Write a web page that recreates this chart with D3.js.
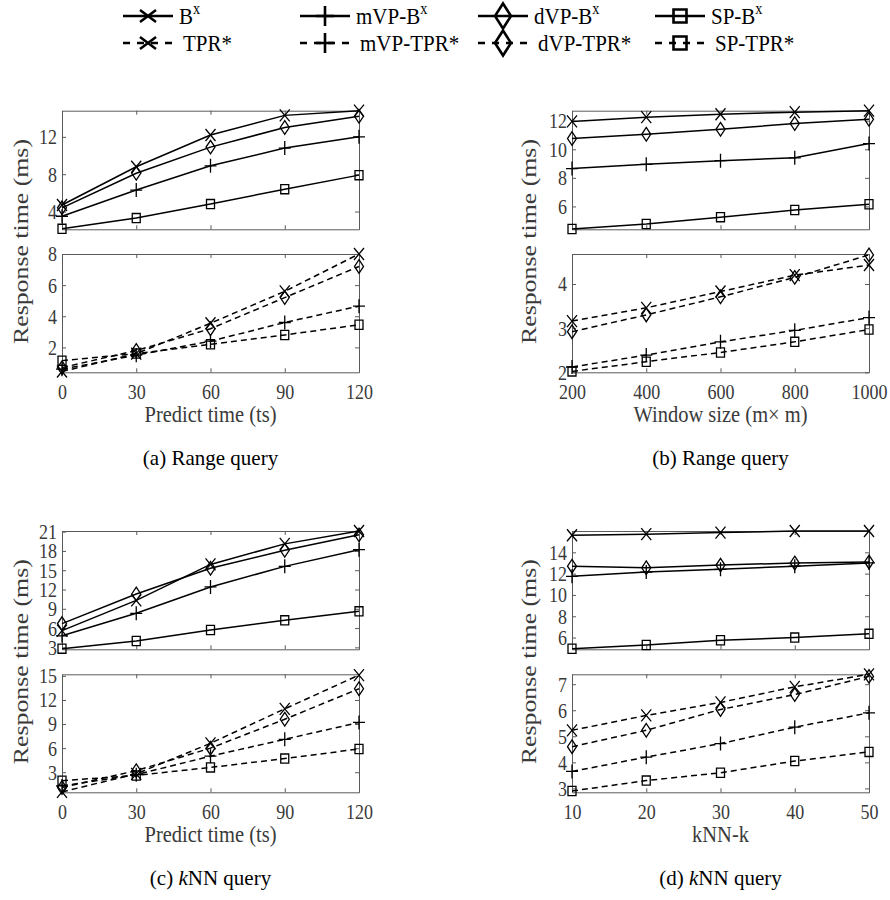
<!DOCTYPE html>
<html>
<head>
<meta charset="utf-8">
<script src="https://cdn.jsdelivr.net/npm/d3@7/dist/d3.min.js"></script>
<style>
	body { margin: 0; background: #fff; }
	text { font-family: "Times New Roman", "Liberation Serif", serif; }
</style>
</head>
<body>
<div id="chart"></div>
<script>

// categories (x axis)
var predictTime = [0, 30, 60, 90, 120];
var windowSize = [200, 400, 600, 800, 1000];
var knnK = [10, 20, 30, 40, 50];

// (a) range query vs predict time
var rangePredBx     = [4.7, 8.8, 12.2, 14.3, 14.8];
var rangePredMvpBx  = [3.5, 6.3, 8.9, 10.8, 12.0];
var rangePredDvpBx  = [4.4, 8.1, 10.9, 13.0, 14.2];
var rangePredSpBx   = [2.15, 3.3, 4.8, 6.4, 7.9];
var rangePredTpr    = [0.45, 1.6, 3.55, 5.6, 8.0];
var rangePredMvpTpr = [0.6, 1.5, 2.4, 3.6, 4.65];
var rangePredDvpTpr = [0.7, 1.8, 3.2, 5.2, 7.2];
var rangePredSpTpr  = [1.15, 1.6, 2.2, 2.8, 3.45];

// (b) range query vs window size
var rangeWinBx     = [11.95, 12.25, 12.45, 12.6, 12.7];
var rangeWinMvpBx  = [8.65, 8.95, 9.2, 9.4, 10.4];
var rangeWinDvpBx  = [10.75, 11.05, 11.4, 11.8, 12.1];
var rangeWinSpBx   = [4.42, 4.77, 5.25, 5.75, 6.15];
var rangeWinTpr    = [3.16, 3.46, 3.83, 4.2, 4.43];
var rangeWinMvpTpr = [2.12, 2.39, 2.69, 2.95, 3.24];
var rangeWinDvpTpr = [2.92, 3.3, 3.71, 4.15, 4.66];
var rangeWinSpTpr  = [2.02, 2.24, 2.45, 2.69, 2.97];

// (c) kNN query vs predict time
var knnPredBx     = [5.6, 10.3, 15.9, 19.1, 21.1];
var knnPredMvpBx  = [4.8, 8.3, 12.4, 15.6, 18.2];
var knnPredDvpBx  = [6.7, 11.3, 15.3, 18.1, 20.5];
var knnPredSpBx   = [2.8, 4.0, 5.7, 7.2, 8.6];
var knnPredTpr    = [0.55, 2.8, 6.6, 10.9, 15.1];
var knnPredMvpTpr = [1.3, 2.7, 5.0, 7.1, 9.2];
var knnPredDvpTpr = [1.1, 3.2, 6.0, 9.6, 13.4];
var knnPredSpTpr  = [1.95, 2.6, 3.6, 4.7, 5.9];

// (d) kNN query vs k
var knnKBx     = [15.6, 15.7, 15.85, 16.0, 16.0];
var knnKMvpBx  = [11.75, 12.15, 12.4, 12.7, 13.0];
var knnKDvpBx  = [12.7, 12.55, 12.8, 13.0, 13.1];
var knnKSpBx   = [4.95, 5.3, 5.75, 6.0, 6.35];
var knnKTpr    = [5.23, 5.8, 6.3, 6.9, 7.38];
var knnKMvpTpr = [3.65, 4.2, 4.72, 5.35, 5.9];
var knnKDvpTpr = [4.6, 5.23, 6.03, 6.6, 7.3];
var knnKSpTpr  = [2.9, 3.3, 3.6, 4.05, 4.4];

// axis limits and ticks
var rangePredTopLim = [2.1, 14.8],  rangePredTopTicks = [4, 8, 12];
var rangePredBotLim = [0.4, 8.0],   rangePredBotTicks = [2, 4, 6, 8];
var rangeWinTopLim  = [4.4, 12.7],  rangeWinTopTicks  = [6, 8, 10, 12];
var rangeWinBotLim  = [2.0, 4.68],  rangeWinBotTicks  = [2, 3, 4];
var knnPredTopLim   = [2.7, 21.1],  knnPredTopTicks   = [3, 6, 9, 12, 15, 18, 21];
var knnPredBotLim   = [0.5, 15.2],  knnPredBotTicks   = [3, 6, 9, 12, 15];
var knnKTopLim      = [4.9, 16.0],  knnKTopTicks      = [6, 8, 10, 12, 14];
var knnKBotLim      = [2.85, 7.38], knnKBotTicks      = [3, 4, 5, 6, 7];

// legend
var legendTop = ['B', 'mVP-B', 'dVP-B', 'SP-B'];
var legendBottom = ['TPR*', 'mVP-TPR*', 'dVP-TPR*', 'SP-TPR*'];
var markerOrder = ['x', 'plus', 'diamond', 'square'];

var options = {
	w: 890,
	h: 900,
	textColor: '#3a3a3a',
	axisColor: '#5a5a5a',
	stretch: 1.2,
	tickFont: 18,
	labelFont: 20.5,
	captionFont: 21,
	legend: { rows: [16, 43], markers: [148, 325, 503, 680], half: 25, font: 21 },
	cols: [[62, 359], [572, 869]],
	rows: [
		{ top: [110.7, 229.3], bottom: [254, 372.3] },
		{ top: [531, 649.3], bottom: [674.3, 792.3] }
	],
	yLabelX: [22, 530]
};

var panels = [
	{ col: 0, row: 0, xs: predictTime, xLabel: 'Predict time (ts)', caption: ['(a) ', null, 'Range query'],
	  topLim: rangePredTopLim, topTicks: rangePredTopTicks, botLim: rangePredBotLim, botTicks: rangePredBotTicks,
	  top: [rangePredBx, rangePredMvpBx, rangePredDvpBx, rangePredSpBx],
	  bottom: [rangePredTpr, rangePredMvpTpr, rangePredDvpTpr, rangePredSpTpr] },
	{ col: 1, row: 0, xs: windowSize, xLabel: 'Window size (m\u00d7 m)', caption: ['(b) ', null, 'Range query'],
	  topLim: rangeWinTopLim, topTicks: rangeWinTopTicks, botLim: rangeWinBotLim, botTicks: rangeWinBotTicks,
	  top: [rangeWinBx, rangeWinMvpBx, rangeWinDvpBx, rangeWinSpBx],
	  bottom: [rangeWinTpr, rangeWinMvpTpr, rangeWinDvpTpr, rangeWinSpTpr] },
	{ col: 0, row: 1, xs: predictTime, xLabel: 'Predict time (ts)', caption: ['(c) ', 'k', 'NN query'],
	  topLim: knnPredTopLim, topTicks: knnPredTopTicks, botLim: knnPredBotLim, botTicks: knnPredBotTicks,
	  top: [knnPredBx, knnPredMvpBx, knnPredDvpBx, knnPredSpBx],
	  bottom: [knnPredTpr, knnPredMvpTpr, knnPredDvpTpr, knnPredSpTpr] },
	{ col: 1, row: 1, xs: knnK, xLabel: 'kNN-k', caption: ['(d) ', 'k', 'NN query'],
	  topLim: knnKTopLim, topTicks: knnKTopTicks, botLim: knnKBotLim, botTicks: knnKBotTicks,
	  top: [knnKBx, knnKMvpBx, knnKDvpBx, knnKSpBx],
	  bottom: [knnKTpr, knnKMvpTpr, knnKDvpTpr, knnKSpTpr] }
];

function markerPath(type, a, b) {
	if (type === 'x')
		return 'M' + (-a) + ',' + (-b) + 'L' + a + ',' + b + 'M' + (-a) + ',' + b + 'L' + a + ',' + (-b);
	if (type === 'plus')
		return 'M' + (-a) + ',0L' + a + ',0M0,' + (-b) + 'L0,' + b;
	if (type === 'diamond')
		return 'M0,' + (-b) + 'L' + a + ',0L0,' + b + 'L' + (-a) + ',0Z';
	return 'M' + (-a) + ',' + (-b) + 'H' + a + 'V' + b + 'H' + (-a) + 'Z';
}

// half sizes (w, h) of plot markers
var markerSize = { x: [5, 6], plus: [6, 7], diamond: [4.5, 6.8], square: [4, 4.6] };

var svg = d3.select('#chart')
	.append('svg')
	.attr('width', options.w)
	.attr('height', options.h);

function styleAxis(g) {
	g.attr('font-size', options.tickFont).attr('font-family', null);
	g.selectAll('path, line').attr('stroke', options.axisColor).attr('stroke-width', 1);
	g.selectAll('text').attr('fill', options.textColor);
}

function noLabel() { return ''; }

function drawSubplot(p, yRange, lim, ticks, series, dashed, lastRow) {
	var xr = options.cols[p.col];
	var x = d3.scaleLinear().domain([p.xs[0], p.xs[p.xs.length - 1]]).range(xr);
	var y = d3.scaleLinear().domain(lim).range([yRange[1], yRange[0]]);
	var g = svg.append('g');

	// left axis with labels
	g.append('g').attr('transform', 'translate(' + xr[0] + ',0)')
		.call(d3.axisLeft(y).tickValues(ticks).tickFormat(d3.format('d'))
			.tickSizeInner(-4).tickSizeOuter(0).tickPadding(5))
		.call(styleAxis)
		.selectAll('text').attr('transform', 'scale(1,' + options.stretch + ')');
	// right axis
	g.append('g').attr('transform', 'translate(' + xr[1] + ',0)')
		.call(d3.axisRight(y).tickValues(ticks).tickSizeInner(-4).tickSizeOuter(0).tickFormat(noLabel))
		.call(styleAxis);
	// top axis
	g.append('g').attr('transform', 'translate(0,' + yRange[0] + ')')
		.call(d3.axisTop(x).tickValues(p.xs).tickSizeInner(-4).tickSizeOuter(0).tickFormat(noLabel))
		.call(styleAxis);
	// bottom axis
	var bottom = g.append('g').attr('transform', 'translate(0,' + yRange[1] + ')')
		.call(d3.axisBottom(x).tickValues(p.xs).tickSizeInner(-4).tickSizeOuter(0)
			.tickFormat(lastRow ? d3.format('d') : noLabel))
		.call(styleAxis);
	bottom.selectAll('text')
		.attr('y', 22.5)
		.attr('dy', 0)
		.attr('transform', 'scale(1,' + options.stretch + ')');

	var line = d3.line()
		.x(function (d, i) { return x(p.xs[i]); })
		.y(function (d) { return y(d); });

	series.forEach(function (vals, si) {
		var sg = g.append('g');
		sg.append('path')
			.attr('d', line(vals))
			.attr('fill', 'none')
			.attr('stroke', '#000')
			.attr('stroke-width', 1.5)
			.attr('stroke-dasharray', dashed ? '6,4' : null);

		var m = markerOrder[si];
		sg.selectAll('path.mk')
			.data(vals)
			.enter()
			.append('path')
			.attr('class', 'mk')
			.attr('transform', function (d, i) { return 'translate(' + x(p.xs[i]) + ',' + y(d) + ')'; })
			.attr('d', markerPath(m, markerSize[m][0], markerSize[m][1]))
			.attr('fill', 'none')
			.attr('stroke', '#000')
			.attr('stroke-width', 1.3);
	});
}

function draw() {
	panels.forEach(function (p) {
		var r = options.rows[p.row];
		var xr = options.cols[p.col];
		var cx = (xr[0] + xr[1]) / 2;

		drawSubplot(p, r.top, p.topLim, p.topTicks, p.top, false, false);
		drawSubplot(p, r.bottom, p.botLim, p.botTicks, p.bottom, true, true);

		// x label
		svg.append('text')
			.attr('transform', 'translate(' + cx + ',' + (r.bottom[1] + 49.5) + ') scale(1,1.15)')
			.attr('text-anchor', 'middle')
			.attr('font-size', options.labelFont)
			.attr('fill', options.textColor)
			.text(p.xLabel);

		// y label, one for both subplots
		var cy = (r.top[0] + r.bottom[1]) / 2;
		svg.append('text')
			.attr('class', 'ylabel')
			.attr('transform', 'translate(' + options.yLabelX[p.col] + ',' + cy + ') rotate(-90)')
			.attr('text-anchor', 'middle')
			.attr('dy', '0.3em')
			.attr('font-size', 21.5)
			.attr('textLength', 205)
			.attr('lengthAdjust', 'spacingAndGlyphs')
			.attr('fill', options.textColor)
			.text('Response time (ms)');

		// caption
		var cap = svg.append('text')
			.attr('x', cx)
			.attr('y', r.bottom[1] + 93)
			.attr('text-anchor', 'middle')
			.attr('font-size', options.captionFont)
			.attr('fill', '#000');
		cap.append('tspan').text(p.caption[0]);
		if (p.caption[1])
			cap.append('tspan').attr('font-style', 'italic').text(p.caption[1]);
		cap.append('tspan').text(p.caption[2]);
	});

	drawLegend();
}

function drawLegend() {
	var lg = svg.append('g');
	var lsize = { x: [8, 6], plus: [9, 10], diamond: [8, 12.5], square: [6.5, 6.5] };
	var half = options.legend.half;
	[legendTop, legendBottom].forEach(function (labels, row) {
		var ly = options.legend.rows[row];
		labels.forEach(function (label, i) {
			var mx = options.legend.markers[i];
			var m = markerOrder[i];
			lg.append('line')
				.attr('x1', mx - half).attr('x2', mx + half)
				.attr('y1', ly).attr('y2', ly)
				.attr('stroke', '#000')
				.attr('stroke-width', 2.5)
				.attr('stroke-dasharray', row === 1 ? '7,7' : null);
			lg.append('path')
				.attr('transform', 'translate(' + mx + ',' + ly + ')')
				.attr('d', markerPath(m, lsize[m][0], lsize[m][1]))
				.attr('fill', 'none')
				.attr('stroke', '#000')
				.attr('stroke-width', 2.6);
			var t = lg.append('text')
				.attr('transform', 'translate(' + (mx + half + (row === 1 ? 10 : 6)) + ',' + (ly + 7.5) + ') scale(1,1.1)')
				.attr('font-size', options.legend.font)
				.attr('fill', '#000')
				.text(label);
			if (row === 0)
				t.append('tspan').attr('dy', -9).attr('font-size', options.legend.font * 0.68).text('x');
		});
	});
}

draw();

</script>
</body>
</html>
